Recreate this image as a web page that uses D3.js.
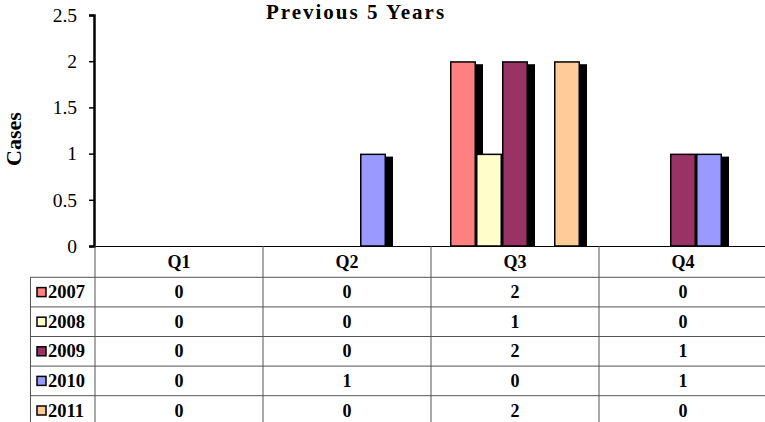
<!DOCTYPE html>
<html><head><meta charset="utf-8">
<script src="https://cdn.jsdelivr.net/npm/d3@7"></script>
<style>body{margin:0;background:#fff;}svg{display:block;}</style>
</head><body>
<script>
const categories = ["Q1","Q2","Q3","Q4"];
const years = ["2007","2008","2009","2010","2011"];
const v2007 = [0,0,2,0];
const v2008 = [0,0,1,0];
const v2009 = [0,0,2,1];
const v2010 = [0,1,0,1];
const v2011 = [0,0,2,0];
const yTicks = [0,0.5,1,1.5,2,2.5];
const title = "Previous 5 Years";
const colors = ["#FF8080","#FFFFCC","#993366","#9999FF","#FFCC99"];
const series = [v2007,v2008,v2009,v2010,v2011];

const W=765,H=422;
const svg=d3.select("body").append("svg").attr("width",W).attr("height",H);
const font="'Liberation Serif','DejaVu Serif',serif";

const x=d3.scaleBand().domain(categories).range([95,767]).padding(0);
const xi=d3.scaleBand().domain(years).range([0,x.bandwidth()]).paddingInner(0).paddingOuter(0.73);
const y=d3.scaleLinear().domain([0,2.5]).range([246,15]);

// title
svg.append("text").attr("x",356).attr("y",19).attr("text-anchor","middle")
  .attr("font-family",font).attr("font-weight","bold").attr("font-size",21)
  .attr("letter-spacing",2).text(title);

// y label
svg.append("text").attr("transform","translate(21,139) rotate(-90)").attr("text-anchor","middle")
  .attr("font-family",font).attr("font-weight","bold").attr("font-size",22).text("Cases");

// bars
const bars=[];
categories.forEach((c,ci)=>years.forEach((yr,si)=>{bars.push({c,yr,si,v:series[si][ci]});}));
const nz=bars.filter(d=>d.v>0);
const g=svg.append("g");
g.selectAll("rect.sh").data(nz).join("rect").attr("class","sh")
  .attr("x",d=>x(d.c)+xi(d.yr)+7).attr("y",d=>y(d.v)+3)
  .attr("width",xi.bandwidth()).attr("height",d=>y(0)-y(d.v)-3).attr("fill","#000");
g.selectAll("rect.b").data(nz).join("rect").attr("class","b")
  .attr("x",d=>x(d.c)+xi(d.yr)+0.75).attr("y",d=>y(d.v)+0.75)
  .attr("width",xi.bandwidth()-1.5).attr("height",d=>y(0)-y(d.v)-0.75)
  .attr("fill",d=>colors[d.si]).attr("stroke","#000").attr("stroke-width",1.5);

// y axis
const ya=svg.append("g").attr("transform","translate(94,0)")
  .call(d3.axisLeft(y).tickValues(yTicks).tickFormat(d3.format("")).tickSize(5).tickPadding(12));
ya.select(".domain").attr("stroke","#000").attr("stroke-width",2.5);
ya.selectAll(".tick line").attr("stroke","#000").attr("stroke-width",1.5);
ya.selectAll("text").attr("font-family",font).attr("font-size",19.5).attr("fill","#000");

// x baseline
svg.append("line").attr("x1",94).attr("x2",767).attr("y1",246.5).attr("y2",246.5).attr("stroke","#000");

// table
const rowH=29.6, hdrTop=246, hdrBot=277.3;
const tg=svg.append("g").attr("stroke","#555").attr("stroke-width",1);
const vx=categories.map(c=>x(c)).concat([x(categories[3])+x.bandwidth()]);
vx.forEach(v=>tg.append("line").attr("x1",v).attr("x2",v).attr("y1",hdrTop).attr("y2",H));
tg.append("line").attr("x1",30.5).attr("x2",30.5).attr("y1",hdrBot).attr("y2",H);
for(let r=0;r<=5;r++){
  const yy=hdrBot+r*rowH;
  tg.append("line").attr("x1",30).attr("x2",767).attr("y1",yy).attr("y2",yy);
}
// header labels
svg.selectAll("text.q").data(categories).join("text").attr("class","q")
  .attr("x",d=>x(d)+x.bandwidth()/2).attr("y",268).attr("text-anchor","middle")
  .attr("font-family",font).attr("font-weight","bold").attr("font-size",18).text(d=>d);
years.forEach((yr,si)=>{
  const cy=hdrBot+si*rowH+rowH/2;
  svg.append("rect").attr("x",37).attr("y",cy-4.5).attr("width",9).attr("height",9)
    .attr("fill",colors[si]).attr("stroke","#000").attr("stroke-width",1.5);
  svg.append("text").attr("x",48).attr("y",cy+6).attr("font-family",font).attr("font-weight","bold")
    .attr("font-size",18.5).text(yr);
  categories.forEach((c,ci)=>{
    svg.append("text").attr("x",x(c)+x.bandwidth()/2).attr("y",cy+6).attr("text-anchor","middle")
      .attr("font-family",font).attr("font-weight","bold").attr("font-size",18).text(series[si][ci]);
  });
});
</script>
</body></html>
